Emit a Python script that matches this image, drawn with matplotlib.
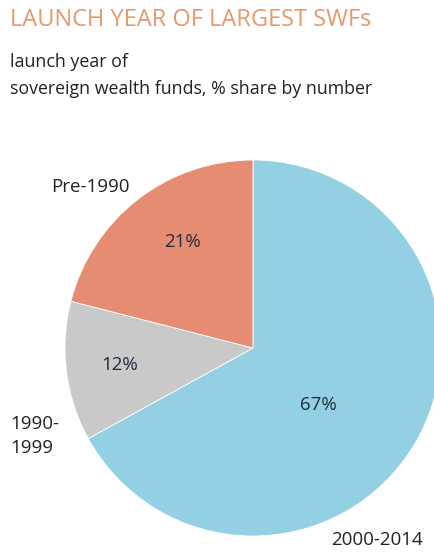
import matplotlib.pyplot as plt

# Launch year of sovereign wealth funds, % share by number
periods = ["2000-2014", "1990-\n1999", "Pre-1990"]
shares = [67, 12, 21]
colors = ["#93D0E4", "#C9C9C9", "#E68C72"]

plt.rcParams['font.family'] = ['Open Sans', 'DejaVu Sans']

fig = plt.figure(figsize=(4.35, 5.53), dpi=100)
ax = fig.add_axes([0, 0, 1, 1])

# pie drawn in pixel-like coordinates (y axis inverted, so go counterclockwise)
ax.pie(shares, colors=colors, startangle=-90, counterclock=True,
       center=(253, 348), radius=188, frame=True,
       wedgeprops=dict(edgecolor="white", linewidth=0.6))
ax.set_xlim(0, 435)
ax.set_ylim(553, 0)
ax.set_aspect("equal")
ax.axis("off")

# percentage labels
pct_pos = [(318, 405), (120, 365), (183, 242)]
for (x, y), v in zip(pct_pos, shares):
    ax.text(x, y, f"{v}%", ha="center", va="center", fontsize=13.5, color="#1F2D3D")

# category labels
ax.text(377, 540, periods[0], ha="center", va="center", fontsize=13.5, color="#222222")
ax.text(10, 436, periods[1], ha="left", va="center", fontsize=13.5, color="#222222",
        linespacing=1.4)
ax.text(90, 187, periods[2], ha="center", va="center", fontsize=13.5, color="#222222")

fig.text(10 / 435, 1 - 20 / 553, "LAUNCH YEAR OF LARGEST SWFs", ha="left", va="center",
         fontsize=17, color="#E6996B")
fig.text(10 / 435, 1 - 62 / 553, "launch year of", ha="left", va="center",
         fontsize=12.8, color="#222222")
fig.text(10 / 435, 1 - 89 / 553, "sovereign wealth funds, % share by number", ha="left",
         va="center", fontsize=12.8, color="#222222")

fig.savefig("out.png", dpi=100, facecolor="white")
